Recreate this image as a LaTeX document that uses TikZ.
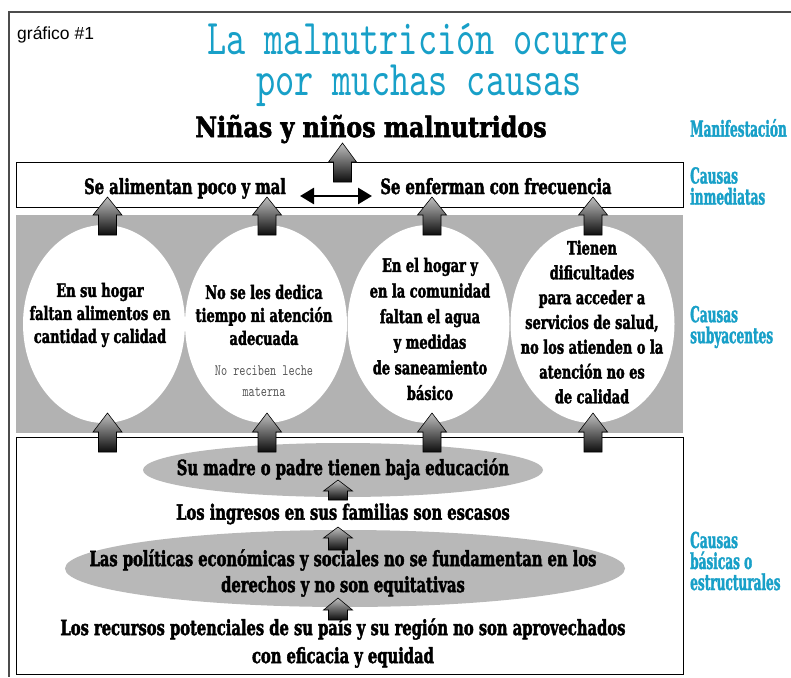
\documentclass[tikz,border=0pt]{standalone}
\usepackage{fontspec}
\usetikzlibrary{arrows.meta,shapes.geometric}
\setmainfont{DejaVu Serif}
\newfontfamily\heavy{DejaVu Serif Bold}[FakeStretch=0.7, FakeBold=2]
\newfontfamily\heavyw{DejaVu Serif Bold}[FakeStretch=0.85, FakeBold=2]
\newfontfamily\lbl{DejaVu Serif Bold}[FakeStretch=0.55, FakeBold=1.5]
\newfontfamily\ttl{lmmono10-regular}[Extension=.otf,FakeStretch=0.73]
\newfontfamily\grf{Liberation Sans}
\definecolor{cyanT}{RGB}{24,160,200}
\definecolor{bandgray}{RGB}{178,178,178}
\definecolor{ellgray}{RGB}{184,184,184}
\newcommand\fs[2]{\fontsize{#1}{#2}\selectfont}
% x, tip y, head-base y, bottom y, head half width, shaft half width
\newcommand\blkarrow[6]{%
  \path[blockarr] (#1,#2) -- (#1+#5,#3) -- (#1+#6,#3) -- (#1+#6,#4)
    -- (#1-#6,#4) -- (#1-#6,#3) -- (#1-#5,#3) -- cycle;}
\tikzset{
  blockarr/.style={draw=black, line width=0.6pt, top color=black!25, bottom color=black!95},
  bodytxt/.style={inner sep=0pt, align=center, font=\heavy\fs{21}{23}},
  circtxt/.style={inner sep=0pt, align=center, font=\heavy\fs{18.5}{23}},
  sidelbl/.style={inner sep=0pt, anchor=west, align=left, text=cyanT, font=\lbl\fs{22}{21}},
  titletxt/.style={inner sep=0pt, anchor=base, text=cyanT, font=\ttl\fs{50}{50}, text height=31pt, text depth=3pt},
}
\begin{document}
\begin{tikzpicture}[x=1pt,y=-1pt]
\useasboundingbox (0,0) rectangle (791,677);
\fill[white] (0,0) rectangle (791,677);
% outer frame
\draw[line width=1.2pt, black!70] (791,12) -- (9,12) -- (9,677);
% label and title
\node[inner sep=0pt, anchor=base west, font=\grf\fs{17.5}{20}] (graf) at (17,40) {gráfico \#1};
\node[titletxt] (title1) at (418,55) {La malnutrición ocurre};
\node[titletxt] (title2) at (419,95) {por muchas causas};
% manifestation
\node[inner sep=0pt, anchor=base, font=\heavyw\fs{28}{30}] (nin) at (371,137) {Niñas y niños malnutridos};
% immediate causes box
\draw[line width=0.8pt] (16,162) rectangle (683,207);
\node[bodytxt, anchor=base] (alim) at (185,194) {Se alimentan poco y mal};
\node[bodytxt, anchor=base] (enf) at (496,194) {Se enferman con frecuencia};
\coordinate (da) at (300,196);
\coordinate (db) at (372,196);
\draw[{Triangle[length=14pt 0,width=16pt 0]}-{Triangle[length=14pt 0,width=16pt 0]}, line width=2.6pt] (da) -- (db);
\blkarrow{342.5}{143}{162}{182}{14}{9}
% underlying causes band
\fill[bandgray] (16,215) rectangle (683,433);
\node[ellipse, fill=white, inner sep=0pt, minimum width=162, minimum height=198] (c1) at (104,324) {};
\node[ellipse, fill=white, inner sep=0pt, minimum width=162, minimum height=198] (c2) at (266,324) {};
\node[ellipse, fill=white, inner sep=0pt, minimum width=162, minimum height=198] (c3) at (428.5,324) {};
\node[ellipse, fill=white, inner sep=0pt, minimum width=164, minimum height=198] (c4) at (592.5,324) {};
\node[circtxt] (t1) at (100,315) {En su hogar\\faltan alimentos en\\cantidad y calidad};
\node[circtxt] (t2) at (264,315) {No se les dedica\\tiempo ni atención\\adecuada};
\node[inner sep=0pt, align=center, text=black!65, font=\ttl\fs{16}{21}] (t2b) at (264,381) {No reciben leche\\materna};
\node[circtxt, font=\heavy\fs{18.5}{25.6}] (t3) at (430,329) {En el hogar y\\en la comunidad\\faltan el agua\\y medidas\\de saneamiento\\básico};
\node[circtxt, font=\heavy\fs{18.5}{24.8}] (t4) at (592,322) {Tienen\\dificultades\\para acceder a\\servicios de salud,\\no los atienden o la\\atención no es\\de calidad};
% arrows from circles to immediate causes
\blkarrow{107.5}{197}{215}{235}{14.5}{9}
\blkarrow{267}{197}{215}{235}{14.5}{9}
\blkarrow{432}{197}{215}{235}{14.5}{9}
\blkarrow{593}{197}{215}{235}{14.5}{9}
% basic causes box
\draw[line width=0.8pt] (16,437) rectangle (683,674);
\node[ellipse, fill=ellgray, inner sep=0pt, minimum width=400, minimum height=54] (e1) at (343,470) {};
\node[ellipse, fill=ellgray, inner sep=0pt, minimum width=560, minimum height=77] (e2) at (345,568.5) {};
\blkarrow{107.5}{413}{432}{452}{14.5}{9}
\blkarrow{267}{413}{432}{452}{14.5}{9}
\blkarrow{432}{413}{432}{452}{14.5}{9}
\blkarrow{593}{413}{432}{452}{14.5}{9}
\node[bodytxt, font=\heavy\fs{21}{27}] (b1) at (343,469) {Su madre o padre tienen baja educación};
\node[bodytxt, font=\heavy\fs{21}{27}] (b2) at (343,514) {Los ingresos en sus familias son escasos};
\node[bodytxt, font=\heavy\fs{21}{26}] (b3) at (343,573) {Las políticas económicas y sociales no se fundamentan en los\\derechos y no son equitativas};
\node[bodytxt, font=\heavy\fs{21}{28}] (b4) at (343,643) {Los recursos potenciales de su país y su región no son aprovechados\\con eficacia y equidad};
\blkarrow{338}{480}{491}{500}{14.5}{9.5}
\blkarrow{338}{527}{538}{550}{14.5}{9.5}
\blkarrow{338}{598}{610}{620}{14.5}{9.5}
% side labels
\node[sidelbl] (l1) at (690,128) {Manifestación};
\node[sidelbl] (l2) at (690,186) {Causas\\inmediatas};
\node[sidelbl] (l3) at (690,327) {Causas\\subyacentes};
\node[sidelbl] (l4) at (690,561) {Causas\\básicas o\\estructurales};
\end{tikzpicture}
\end{document}
